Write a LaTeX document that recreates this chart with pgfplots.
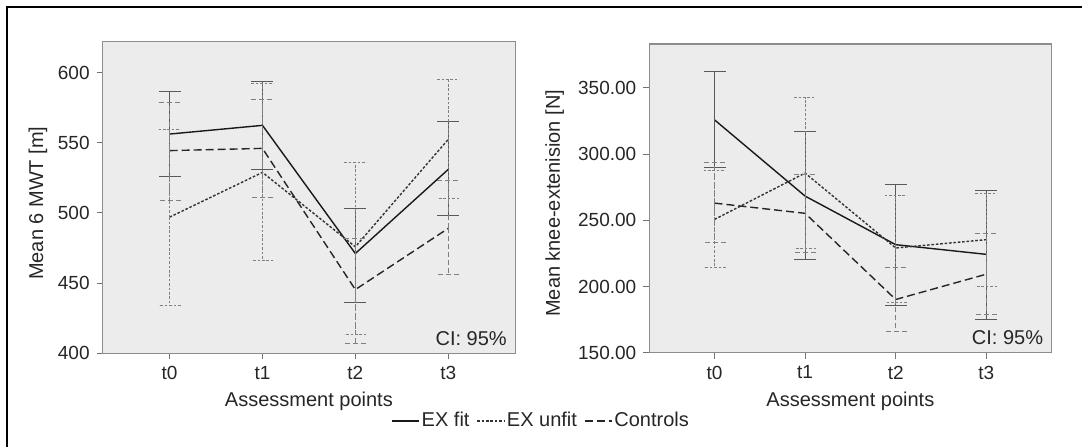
\documentclass[border=0pt]{standalone}
\usepackage{fontspec}
\setmainfont{Liberation Sans}
\usepackage{pgfplots}
\usepackage{pgfplotstable}
\pgfplotsset{compat=1.18}

% 6 MWT: mean, upper and lower CI limit
\pgfplotstableread{
x y hi lo
0 556.2 586.7 525.8
1 562.4 593.8 531.0
2 471.1 503.5 436.4
3 531.0 564.8 498.2
}\mwtfit
\pgfplotstableread{
x y hi lo
0 497.0 559.3 434.0
1 528.9 592.2 466.1
2 475.9 536.0 413.6
3 552.4 595.0 510.6
}\mwtunfit
\pgfplotstableread{
x y hi lo
0 544.4 578.8 508.9
1 546.0 580.5 511.3
2 445.4 481.6 407.1
3 489.0 523.0 456.1
}\mwtctrl

% knee extension
\pgfplotstableread{
x y hi lo
0 325.9 362.1 290.2
1 268.3 317.1 220.1
2 231.6 277.4 185.4
3 224.3 272.6 175.1
}\kneefit
\pgfplotstableread{
x y hi lo
0 250.7 287.7 214.5
1 285.7 342.5 228.9
2 229.1 268.6 188.2
3 235.4 270.6 199.7
}\kneeunfit
\pgfplotstableread{
x y hi lo
0 263.0 294.0 233.1
1 255.3 284.7 225.9
2 190.2 214.3 166.1
3 209.3 239.7 179.1
}\kneectrl

\pgfplotsset{
  panel/.style={
    scale only axis,
    xmin=-0.72, xmax=3.72,
    xtick={0,1,2,3}, xticklabels={t0,t1,t2,t3},
    tick align=outside, xtick pos=left, ytick pos=left,
    major tick length=3pt,
    axis line style={black!45, line width=0.6pt},
    tick style={black!55, line width=0.5pt},
    axis background/.style={fill=black!7.5},
    ticklabel style={font=\fontsize{9.5}{11}\selectfont, text=black!85},
    label style={font=\fontsize{10}{12}\selectfont, text=black!85},
    /pgf/number format/assume math mode=true,
    xlabel={Assessment points},
    legend image code/.code={\draw[##1] (0pt,0pt) -- (13.5pt,0pt);},
  },
  ci/.style={error bars/y dir=both, error bars/y explicit,
    error bars/error bar style={#1, line width=0.5pt},
    error bars/error mark options={rotate=90, #1, mark size=5.5pt, line width=0.5pt}},
  fit/.style={black!90, line width=0.7pt, mark=none, ci={black!65, solid}},
  unfit/.style={black!80, line width=0.7pt, mark=none,
    dash pattern=on 1.3pt off 0.9pt, ci={black!50, dash pattern=on 1.3pt off 0.9pt}},
  ctrl/.style={black!85, line width=0.7pt, mark=none,
    dash pattern=on 4pt off 2pt, ci={black!50, dash pattern=on 2.5pt off 1.5pt}},
}

\begin{document}
\begin{tikzpicture}
\useasboundingbox (0,0) rectangle (541pt,223pt);
\draw[black, line width=1pt] (3.5pt,-5pt) -- (3.5pt,219.5pt) -- (550pt,219.5pt);

\begin{axis}[panel,
  at={(51.35pt,46.35pt)}, anchor=south west,
  width=206.2pt, height=155.8pt,
  ymin=400, ymax=622, ytick={400,450,...,600},
  ylabel={Mean 6 MWT [m]},
  ylabel style={at={(axis description cs:-0.157,0.482)}, anchor=center},
  xlabel style={at={(axis description cs:0.5,-0.153)}, anchor=center},
  legend columns=3,
  legend style={at={(axis description cs:1.063,-0.217)}, anchor=center,
    draw=none, fill=none, font=\fontsize{10}{12}\selectfont, text=black!85,
    /tikz/every even column/.append style={column sep=2.5pt},
    nodes={inner sep=1pt}},
]
\addplot[fit] table[x=x, y=y, y error plus expr=\thisrow{hi}-\thisrow{y}, y error minus expr=\thisrow{y}-\thisrow{lo}] {\mwtfit};
\addplot[unfit] table[x=x, y=y, y error plus expr=\thisrow{hi}-\thisrow{y}, y error minus expr=\thisrow{y}-\thisrow{lo}] {\mwtunfit};
\addplot[ctrl] table[x=x, y=y, y error plus expr=\thisrow{hi}-\thisrow{y}, y error minus expr=\thisrow{y}-\thisrow{lo}] {\mwtctrl};
\legend{EX fit, EX unfit, Controls}
\node[anchor=base east, inner sep=0pt, font=\fontsize{10}{12}\selectfont, text=black!85]
  at (rel axis cs:1,0) [xshift=-4pt, yshift=4pt] {CI: 95\%};
\end{axis}

\begin{axis}[panel,
  at={(324.65pt,46.65pt)}, anchor=south west,
  width=201.1pt, height=154.35pt,
  ymin=150, ymax=383.2, ytick={150,200,...,350},
  yticklabel style={/pgf/number format/.cd, fixed, fixed zerofill, precision=2},
  ylabel={Mean knee-extenision [N]},
  ylabel style={at={(axis description cs:-0.235,0.484)}, anchor=center},
  xlabel style={at={(axis description cs:0.5,-0.156)}, anchor=center},
]
\addplot[fit] table[x=x, y=y, y error plus expr=\thisrow{hi}-\thisrow{y}, y error minus expr=\thisrow{y}-\thisrow{lo}] {\kneefit};
\addplot[unfit] table[x=x, y=y, y error plus expr=\thisrow{hi}-\thisrow{y}, y error minus expr=\thisrow{y}-\thisrow{lo}] {\kneeunfit};
\addplot[ctrl] table[x=x, y=y, y error plus expr=\thisrow{hi}-\thisrow{y}, y error minus expr=\thisrow{y}-\thisrow{lo}] {\kneectrl};
\node[anchor=base east, inner sep=0pt, font=\fontsize{10}{12}\selectfont, text=black!85]
  at (rel axis cs:1,0) [xshift=-4pt, yshift=4pt] {CI: 95\%};
\end{axis}
\end{tikzpicture}
\end{document}
